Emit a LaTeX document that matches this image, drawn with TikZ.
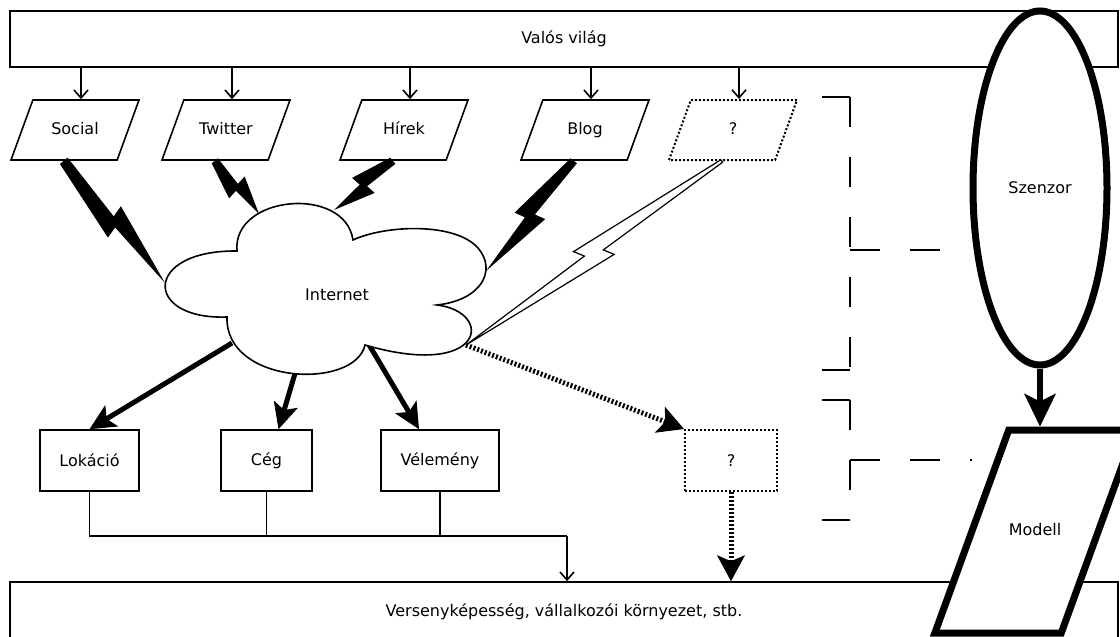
\documentclass[tikz,border=0pt]{standalone}
\usepackage{fontspec}
\setmainfont{DejaVu Sans}
\usetikzlibrary{shapes.geometric,arrows.meta,calc}

% lightning connector: [style]{from}{to}{half width}{spike}
\newcommand{\villam}[5][fill=black]{%
  \path[#1] ($(#2)!#4!90:(#3)$)
    -- ($(#2)!0.47!(#3)!3pt!90:(#3)$)
    -- ($(#2)!0.45!(#3)!#5!90:(#3)$)
    -- (#3)
    -- ($(#2)!0.53!(#3)!3pt!-90:(#3)$)
    -- ($(#2)!0.55!(#3)!#5!-90:(#3)$)
    -- ($(#2)!#4!-90:(#3)$) -- cycle;}

\begin{document}
\begin{tikzpicture}[x=1pt, y=-1pt,
    every node/.style={font=\fontsize{16}{19}\selectfont},
    box/.style={draw, line width=1.6pt, inner sep=0pt},
    ferde/.style={trapezium, trapezium left angle=70, trapezium right angle=110,
      trapezium stretches body, text height=12pt, text depth=4pt, inner xsep=0pt},
    forras/.style={ferde, draw, line width=1.6pt, inner ysep=22pt, minimum width=128pt},
    pontozott/.style={line width=2pt, dash pattern=on 2pt off 2pt},
    vekony/.style={line width=1.6pt, -{Straight Barb[length=8pt,width=14pt]}},
    vastag/.style={line width=5pt, -{Stealth[length=26pt,width=25pt,inset=6pt,line width=1pt]}},
    csikos/.style={line width=5pt, dash pattern=on 2pt off 2pt,
      -{Stealth[length=26pt,width=28pt,inset=6pt,line width=1pt]}},
    keret/.style={line width=1.6pt, dash pattern=on 30pt off 30pt}]
  \useasboundingbox (0,0) rectangle (1120,637);
  \clip (0,0) rectangle (1120,637);

  % top and bottom bars
  \node[box, minimum width=1108pt, minimum height=56pt] (valos) at (564,39) {Valós világ};
  \node[box, minimum width=1108pt, minimum height=60pt] (verseny) at (564,612)
    {Versenyképesség, vállalkozói környezet, stb.};

  % sources
  \node[forras] (social) at (75,130) {Social};
  \node[forras] (twitter) at (226,130) {Twitter};
  \node[forras] (hirek) at (404,130) {Hírek};
  \node[forras] (blog) at (585,130) {Blog};
  \node[forras, pontozott] (qpar) at (733,130) {?};
  \foreach \n in {social,twitter,hirek,blog,qpar}
    \draw[vekony] ([xshift=6pt]\n.center |- valos.south) -- ([xshift=6pt]\n.center |- \n.top side);

  % results
  \node[box, minimum width=99pt, minimum height=61pt] (lok) at (89.5,460.5) {Lokáció};
  \node[box, minimum width=91pt, minimum height=61pt] (ceg) at (266.5,460.5) {Cég};
  \node[box, minimum width=118pt, minimum height=61pt] (vel) at (440,460.5) {Vélemény};
  \node[box, pontozott, minimum width=92pt, minimum height=61pt] (qbox) at (731,460.5) {?};

  % points on the cloud
  \coordinate (cSocial) at (165,283);
  \coordinate (cTwitter) at (259,214);
  \coordinate (cHirek) at (334,210);
  \coordinate (cBlog) at (486,271);
  \coordinate (cQ) at (466,345);
  \coordinate (cLok) at (232,343);
  \coordinate (cCeg) at (296,370);
  \coordinate (cVel) at (368,343);

  \villam{social.bottom side}{cSocial}{5pt}{15pt}
  \villam{twitter.bottom side}{cTwitter}{4pt}{13pt}
  \villam{hirek.bottom side}{cHirek}{4pt}{13pt}
  \villam{blog.bottom side}{cBlog}{4pt}{14pt}
  \villam[draw, fill=white, line width=1.2pt, line join=miter]{qpar.bottom side}{cQ}{1.5pt}{13pt}

  \draw[vastag] (cLok) -- (lok.north);
  \draw[vastag] (cCeg) -- ([xshift=12pt]ceg.north);
  \draw[vastag] (cVel) -- ([xshift=-21pt]vel.north);
  \draw[csikos] (cQ) -- (qbox.north west);
  \draw[csikos] (qbox.south) -- (qbox.south |- verseny.north);

  % cloud
  \draw[line width=1.6pt, fill=white] (237,251)
    .. controls (232,195) and (345,185) .. (353,240)
    .. controls (385,225) and (455,222) .. (478,248)
    .. controls (497,270) and (482,300) .. (437,305)
    .. controls (495,312) and (485,380) .. (365,345)
    .. controls (355,390) and (225,385) .. (227,317)
    .. controls (143,320) and (143,250) .. (237,251) -- cycle;
  \node (inet) at (337,295) {Internet};

  % bus to the bottom bar
  \coordinate (gyujto) at (567,536);
  \draw[line width=1.6pt] (lok.south) |- (gyujto);
  \draw[line width=1.6pt] (ceg.south) -- (ceg.south |- gyujto);
  \draw[line width=1.6pt] (vel.south) -- (vel.south |- gyujto);
  \draw[vekony] (gyujto) -- (gyujto |- verseny.north);

  % sensor and model
  \node[ellipse, draw, fill=white, line width=7pt, minimum width=134pt,
    minimum height=354pt, inner sep=0pt] (szenzor) at (1040,188) {Szenzor};
  \node[ferde, draw, fill=white, line width=7pt, inner ysep=93.5pt,
    minimum width=176pt] (modell) at (1035,531.5) {Modell};
  \draw[line width=6pt, -{Stealth[length=33pt,width=32pt,inset=8pt,line width=1pt]}]
    (szenzor.south) -- (szenzor.south |- modell.north);

  % brackets
  \draw[keret] (822,97) -- (850,97);
  \draw[keret] (850,97) -- (850,370);
  \draw[keret] (850,370) -- (822,370);
  \draw[keret] (850,250) -- (szenzor.west |- 0,250);
  \draw[keret] (822,400) -- (850,400);
  \draw[keret] (850,400) -- (850,520);
  \draw[keret] (850,520) -- (822,520);
  \draw[keret] (850,460) -- (972,460);
\end{tikzpicture}
\end{document}
